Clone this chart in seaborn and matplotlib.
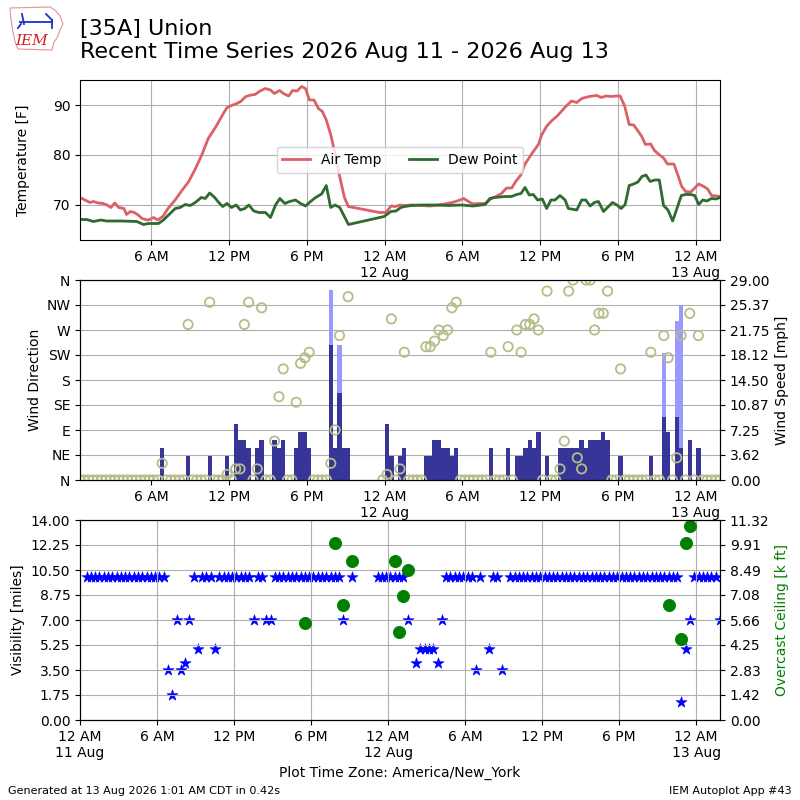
import numpy as np
import pandas as pd
import matplotlib
matplotlib.use("Agg")
import matplotlib.pyplot as plt
import matplotlib.dates as mdates
from matplotlib.ticker import FormatStrFormatter, FuncFormatter
from matplotlib.patches import Polygon
from matplotlib.lines import Line2D
import seaborn as sns

DAY0 = pd.Timestamp("2026-08-11 00:00")

# temperature / dew point traces, hours after midnight 11 Aug (America/New_York)
temp_hours = [0.52, 0.9, 1.28, 1.54, 1.93, 2.3, 2.6, 2.9, 3.2, 3.5, 3.9, 4.1, 4.4, 4.7,
              5.0, 5.3, 5.7, 5.9, 6.2, 6.5, 6.9, 7.3, 7.85, 8.4, 8.9, 9.4, 9.9, 10.4,
              11.0, 11.5, 11.85, 12.2, 12.6, 12.9, 13.3, 13.7, 14.0, 14.4, 14.8, 15.2,
              15.5, 15.9, 16.2, 16.6, 16.9, 17.25, 17.6, 17.9, 18.2, 18.55, 18.9, 19.2,
              19.5, 19.85, 20.2, 20.55, 20.9, 21.2, 23.6, 24.1, 24.5, 24.8, 25.2, 25.5,
              26.1, 26.8, 27.5, 28.4, 29.2, 29.7, 30.1, 30.4, 30.8, 31.2, 31.5, 31.8,
              32.2, 32.6, 33.0, 33.4, 33.8, 34.1, 34.5, 34.8, 35.3, 35.85, 36.1, 36.5,
              36.9, 37.3, 37.65, 38.0, 38.4, 38.8, 39.2, 39.6, 40.0, 40.35, 40.7, 41.05,
              41.5, 41.8, 42.15, 42.5, 42.85, 43.2, 43.5, 43.8, 44.1, 44.5, 44.8, 45.1,
              45.5, 45.8, 46.3, 46.6, 46.9, 47.2, 47.6, 47.9, 48.2, 48.6, 48.9, 49.2,
              49.6, 49.85]
temp_f = [71.5, 71.0, 70.5, 70.7, 70.4, 70.3, 70.0, 69.5, 70.4, 69.5, 69.3, 68.1, 68.7, 68.5,
          68.0, 67.3, 67.0, 67.1, 67.5, 67.0, 67.7, 69.3, 71.0, 73.0, 74.7, 77.2, 80.0, 83.3,
          85.7, 88.0, 89.5, 89.9, 90.3, 90.7, 91.7, 92.0, 92.1, 92.8, 93.3, 93.0,
          92.3, 92.9, 92.3, 91.8, 92.9, 92.8, 93.7, 93.3, 91.0, 91.0, 89.3, 88.7,
          87.0, 84.0, 80.0, 75.5, 71.5, 69.7, 68.5, 68.5, 69.8, 69.7, 70.0, 69.9,
          70.0, 69.9, 69.8, 70.1, 70.5, 70.9, 71.3, 70.8, 70.2, 70.3, 70.3, 70.3,
          71.3, 71.7, 72.3, 73.4, 73.4, 74.7, 76.0, 78.1, 80.1, 82.1, 84.0, 85.8,
          86.9, 87.8, 88.8, 89.8, 90.8, 90.5, 91.3, 91.6, 91.8, 91.9, 91.5, 91.8,
          91.7, 91.8, 91.8, 89.8, 86.1, 86.0, 84.9, 83.8, 82.1, 82.2, 80.9, 80.2,
          79.4, 78.2, 78.2, 76.0, 73.7, 72.7, 72.6, 73.4, 74.2, 73.7, 73.2, 71.9,
          71.8, 71.7]
dwpt_hours = [0.52, 1.03, 1.54, 2.13, 2.57, 3.73, 4.89, 5.41, 5.79, 6.57, 6.95, 7.34, 7.86,
              8.24, 8.63, 9.02, 9.4, 9.87, 10.18, 10.51, 10.9, 11.21, 11.52, 11.85, 12.19,
              12.55, 12.88, 13.22, 13.53, 13.91, 14.3, 14.81, 15.2, 15.59, 15.92, 16.31,
              16.67, 17.13, 17.52, 17.9, 18.29, 18.68, 19.14, 19.5, 19.84, 20.18, 20.54,
              21.21, 23.96, 24.48, 24.87, 25.25, 25.54, 26.06, 26.83, 27.86, 28.89, 29.92,
              30.82, 31.73, 32.11, 32.5, 33.27, 33.79, 34.17, 34.51, 34.82, 35.15, 35.46,
              35.79, 36.15, 36.49, 36.82, 37.13, 37.52, 37.91, 38.16, 38.81, 39.19, 39.5,
              39.84, 40.17, 40.48, 40.87, 41.25, 41.56, 41.9, 42.23, 42.54, 42.85, 43.19,
              43.52, 43.83, 44.14, 44.47, 44.81, 45.17, 45.5, 45.84, 46.2, 46.53, 46.87,
              47.18, 47.56, 47.9, 48.21, 48.52, 48.85, 49.19, 49.55, 49.85]
dwpt_f = [67.1, 67.1, 66.7, 67.0, 66.8, 66.8, 66.7, 66.1, 66.3, 66.3, 67.0, 68.0, 69.3,
          69.5, 70.1, 69.9, 70.5, 71.5, 71.3, 72.4, 71.5, 70.5, 69.7, 70.3, 69.5,
          70.0, 69.0, 69.3, 70.0, 68.8, 68.5, 68.5, 67.5, 70.0, 71.3, 70.3,
          70.7, 71.0, 70.3, 69.8, 70.7, 71.5, 72.2, 73.9, 69.5, 70.0, 69.5,
          66.1, 67.7, 68.7, 68.8, 69.5, 69.7, 69.9, 70.0, 70.0, 69.9, 70.0,
          69.8, 70.1, 71.3, 71.5, 71.7, 71.7, 72.1, 72.3, 73.5, 72.0, 72.1,
          71.0, 71.2, 69.3, 71.0, 71.0, 71.9, 71.0, 69.3, 69.0, 71.0, 71.0,
          69.8, 70.5, 70.7, 68.7, 69.7, 70.5, 70.0, 69.3, 70.1, 73.9, 74.2,
          74.6, 75.7, 76.0, 74.7, 75.0, 75.0, 69.9, 69.0, 66.8, 69.3, 71.9,
          72.1, 72.1, 71.9, 70.1, 71.0, 70.8, 71.3, 71.2, 71.5]

# AWOS reports every 20 minutes, 12:31 AM 11 Aug .. 1:51 AM 13 Aug
report_times = pd.date_range("2026-08-11 00:31", "2026-08-13 01:51", freq="20min")

# wind direction [deg], 0 = calm, None = missing (one row = 4 hours)
wind_drct = ([0] * 12 +
             [0, 0, 0, 0, 0, 0, 0, 30, 0, 0, 0, 0] +
             [0, 280, 0, 0, 0, 0, 320, 0, 0, 0, 10, 0] +
             [20, 20, 280, 320, 0, 20, 310, 0, 0, 70, 150, 200] +
             [0, 0, 140, 210, 220, 230, 0, 0, 0, 0, 30, 90] +
             [260, None, 330, None, None, None, None, None, None, None, 0, 10] +
             [290, 0, 20, 230, 0, 0, 0, 0, 240, 240, 250, 270] +
             [260, 270, 310, 320, 0, 0, 0, 0, 0, 0, 0, 230] +
             [0, 0, 0, 240, 0, 270, 230, 280, 280, 290, 270, 0] +
             [340, 0, 0, 20, 70, 340, 360, 40, 20, 360, 360, 270] +
             [300, 300, 340, 0, 0, 200, 0, 0, 0, 0, 0, 0] +
             [230, 0, 0, 260, 220, 0, 40, 260, 0, 300, 0, 260] +
             [0, 0, 0, 0, 0])
# wind speed [knots]
wind_sknt = ([0] * 12 +
             [0, 0, 0, 0, 0, 0, 0, 4, 0, 0, 0, 0] +
             [0, 3, 0, 0, 0, 0, 3, 0, 0, 0, 3, 0] +
             [7, 5, 5, 4, 0, 4, 5, 0, 0, 5, 4, 5] +
             [0, 0, 4, 6, 6, 4, 0, 0, 0, 0, 17, 4] +
             [11, 4, 4, None, None, None, None, None, None, None, 0, 7] +
             [3, 0, 3, 4, 0, 0, 0, 0, 3, 3, 5, 5] +
             [4, 4, 3, 4, 0, 0, 0, 0, 0, 0, 0, 4] +
             [0, 0, 0, 4, 0, 3, 3, 4, 5, 4, 6, 0] +
             [3, 0, 0, 4, 4, 4, 4, 4, 5, 4, 5, 5] +
             [5, 6, 5, 0, 0, 3, 0, 0, 0, 0, 0, 0] +
             [3, 0, 0, 8, 6, 0, 8, 4, 0, 5, 0, 4] +
             [0, 0, 0, 0, 0])
gust_idx = [58, 60, 135, 138, 139]
gust_sknt = [24, 17, 16, 20, 22]

# visibility [miles]
vsby = ([10] * 12 +
        [10, 10, 10, 10, 10, 10, 10, 3.5, 1.75, 7, 3.5, 4] +
        [7, 10, 5, 10, 10, 10, 5, 10, 10, 10, 10, 10] +
        [10, 10, 10, 7, 10, 10, 7, 7, 10, 10, 10, 10] +
        [10] * 12 +
        [7, None, 10, None, None, None, None, None, 10, 10, 10, 10] +
        [10, 10, 10, 7, None, 4, 5, 5, 5, 5, 4, 7] +
        [10, 10, 10, 10, 10, 10, 10, 3.5, 10, None, 5, 10] +
        [10, 3.5, None, 10, 10, 10, 10, 10, 10, 10, 10, 10] +
        [10] * 12 +
        [10] * 12 +
        [10, 10, 10, 10, 10, 10, 10, 1.25, 5, 7, 10, 10] +
        [10, 10, 10, 10, 7])
# overcast ceiling [k ft]
ceil_idx = [51, 58, 60, 62, 72, 73, 74, 75, 136, 139, 140, 141]
ceil_kft = [5.5, 10.0, 6.5, 9.0, 9.0, 5.0, 7.0, 8.5, 6.5, 4.6, 10.0, 11.0]

KT2MPH = 1.15078
BARW = 20 / 1440.
SPD_MAX = max(gust_sknt) * KT2MPH * 1.05
CEIL_MAX = 11.323

temp = pd.DataFrame({"valid": DAY0 + pd.to_timedelta(temp_hours, unit="h"), "tmpf": temp_f})
dwpt = pd.DataFrame({"valid": DAY0 + pd.to_timedelta(dwpt_hours, unit="h"), "dwpf": dwpt_f})
obs = pd.DataFrame({"valid": report_times,
                    "drct": pd.to_numeric(pd.Series(wind_drct), errors="coerce"),
                    "sknt": pd.to_numeric(pd.Series(wind_sknt), errors="coerce"),
                    "vsby": pd.to_numeric(pd.Series(vsby), errors="coerce")})
obs["smph"] = obs["sknt"] * KT2MPH
gust = pd.DataFrame({"valid": report_times[gust_idx], "gmph": np.array(gust_sknt) * KT2MPH})
ceil = pd.DataFrame({"valid": report_times[ceil_idx], "ceil": ceil_kft})


def time_label(x, pos=None):
    t = mdates.num2date(x)
    hr = t.hour
    if hr == 0:
        return "12 AM\n%d %s" % (t.day, t.strftime("%b"))
    if hr == 12:
        return "12 PM"
    return "%d %s" % (hr % 12, "AM" if hr < 12 else "PM")


fig = plt.figure(figsize=(8, 8), dpi=100)
ax1 = fig.add_axes([0.1, 0.70, 0.8, 0.20])
ax2 = fig.add_axes([0.1, 0.40, 0.8, 0.25], sharex=ax1)
ax3 = fig.add_axes([0.1, 0.10, 0.8, 0.25])

# --- temperature panel
sns.lineplot(data=temp, x="valid", y="tmpf", ax=ax1, color="#dc6068", lw=2, label="Air Temp")
sns.lineplot(data=dwpt, x="valid", y="dwpf", ax=ax1, color="#2f6a2f", lw=2, label="Dew Point")
ax1.set_ylim(63, 95)
ax1.set_yticks([70, 80, 90])
ax1.set_xlim(report_times[0], report_times[-1])
ax1.xaxis.set_major_locator(mdates.HourLocator(byhour=[0, 6, 12, 18]))
ax1.xaxis.set_major_formatter(FuncFormatter(time_label))
ax1.grid(True)
ax1.set_xlabel("")
ax1.set_ylabel("Temperature [F]")
ax1.yaxis.set_label_coords(-0.078, 0.5)
ax1.legend(loc="center", ncol=2)

# --- wind panel
ax2b = ax2.twinx()
ax2b.bar(gust["valid"], gust["gmph"], width=BARW, color="#9999ff")
ax2b.bar(obs["valid"], obs["smph"].fillna(0), width=BARW, color="#373698")
ax2b.set_ylim(0, SPD_MAX)
ax2b.set_yticks(np.linspace(0, SPD_MAX, 9))
ax2b.yaxis.set_major_formatter(FormatStrFormatter("%.2f"))
ax2b.set_ylabel("Wind Speed [mph]")
ax2b.set_axisbelow(True)
ax2b.grid(True)

sns.scatterplot(data=obs, x="valid", y="drct", ax=ax2, facecolors="none",
                edgecolor="#b8bc86", s=45, linewidth=1.3)
ax2.set_zorder(ax2b.get_zorder() + 1)
ax2.patch.set_visible(False)
ax2.set_ylim(0, 360)
ax2.set_yticks(range(0, 361, 45))
ax2.set_yticklabels(["N", "NE", "E", "SE", "S", "SW", "W", "NW", "N"])
ax2.set_xlim(report_times[0], report_times[-1])
ax2.set_xlabel("")
ax2.set_ylabel("Wind Direction")
ax2.yaxis.set_label_coords(-0.059, 0.5)

# --- visibility / ceiling panel
sns.scatterplot(data=obs, x="valid", y="vsby", ax=ax3, marker="*", color="b",
                edgecolor="b", linewidth=0.4, s=70)
ax3.set_ylim(0, 14)
ax3.set_yticks(np.linspace(0, 14, 9))
ax3.yaxis.set_major_formatter(FormatStrFormatter("%.2f"))
ax3.set_xlim(DAY0, report_times[-1])
ax3.xaxis.set_major_locator(mdates.HourLocator(byhour=[0, 6, 12, 18]))
ax3.xaxis.set_major_formatter(FuncFormatter(time_label))
ax3.grid(True)
ax3.set_ylabel("Visibility [miles]")
ax3.yaxis.set_label_coords(-0.086, 0.5)
ax3.set_xlabel("Plot Time Zone: America/New_York")

ax3b = ax3.twinx()
sns.scatterplot(data=ceil, x="valid", y="ceil", ax=ax3b, color="g", edgecolor="g", s=75)
ax3b.set_ylim(0, CEIL_MAX)
ax3b.set_yticks(np.linspace(0, CEIL_MAX, 9))
ax3b.yaxis.set_major_formatter(FormatStrFormatter("%.2f"))
ax3b.set_ylabel("Overcast Ceiling [k ft]", color="g")
ax3b.set_xlim(DAY0, report_times[-1])

# --- titles, footer, logo
fig.text(0.1, 0.976, "[35A] Union\nRecent Time Series 2026 Aug 11 - 2026 Aug 13",
         fontsize=16, va="top", linespacing=1.15)
fig.text(0.01, 0.007, "Generated at 13 Aug 2026 1:01 AM CDT in 0.42s", fontsize=8)
fig.text(0.99, 0.007, "IEM Autoplot App #43", fontsize=8, ha="right")


def px(x, y):
    return (x / 800., 1 - y / 800.)


iowa = [px(10, 8), px(50, 7), px(55, 10), px(60, 16), px(63, 24), px(60, 30), px(57, 38),
        px(54, 42), px(52, 50), px(18, 49), px(15, 42), px(13, 32), px(11, 20)]
fig.add_artist(Polygon(iowa, closed=True, fill=False, ec="#e89090", lw=0.8,
                       transform=fig.transFigure))
for (x0, y0), (x1, y1) in [((20, 22), (52, 22)), ((22, 14), (24, 24)), ((46, 14), (52, 20)),
                           ((52, 20), (52, 28)), ((21, 24), (18, 28))]:
    a, b = px(x0, y0), px(x1, y1)
    fig.add_artist(Line2D([a[0], b[0]], [a[1], b[1]], color="#2030c8", lw=1.3,
                          transform=fig.transFigure))
fig.text(px(15, 45)[0], px(15, 45)[1], "IEM", color="#d42020", fontsize=11,
         family="DejaVu Serif", style="italic")

fig.savefig("out.png", dpi=100)
